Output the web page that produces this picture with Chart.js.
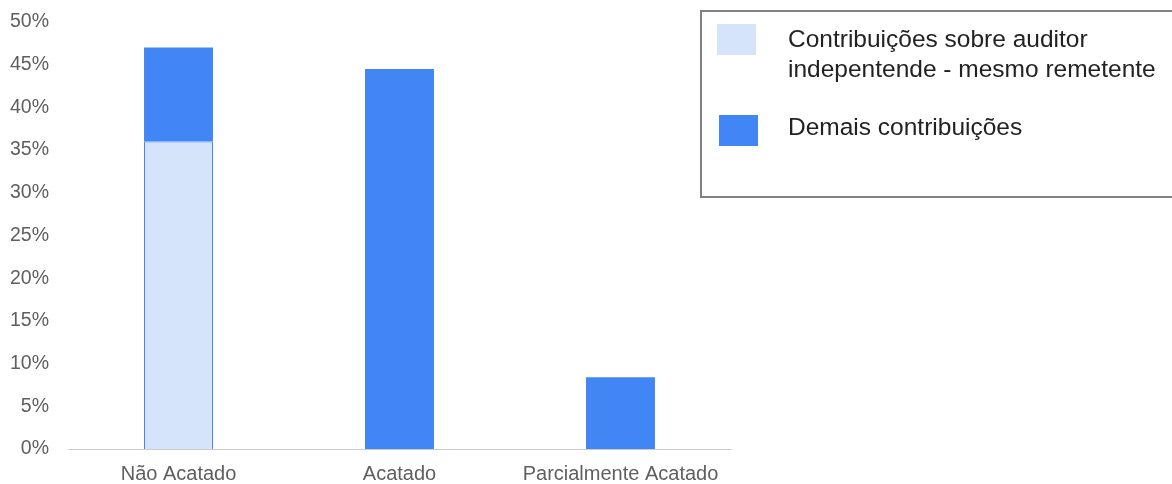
<!DOCTYPE html>
<html>
<head>
<meta charset="utf-8">
<script src="https://cdn.jsdelivr.net/npm/chart.js@4"></script>
<style>
  body { margin: 0; background: #fff; font-family: "Liberation Sans", Arial, sans-serif; }
  #wrap { position: relative; width: 1172px; height: 484px; }
  #legend {
    position: absolute; left: 700px; top: 10px; width: 480px; height: 184px;
    border: 2px solid #808080; box-sizing: content-box;
  }
  .item { position: absolute; left: 86px; color: #222; font-size: 24.5px; line-height: 30px; }
  .sw { position: absolute; width: 39px; height: 31px; }
</style>
</head>
<body>
<div id="wrap">
  <canvas id="chart" width="1172" height="484"></canvas>
  <div id="legend"></div>
</div>
<script>
// values (percent)
const categories = ["Não Acatado", "Acatado", "Parcialmente Acatado"];
const mesmoRemetente = [36, 0, 0];
const demais = [11, 44.5, 8.4];
const yTicks = [0, 5, 10, 15, 20, 25, 30, 35, 40, 45, 50];

const seriesNames = ["Contribuições sobre auditor\nindepentende - mesmo remetente", "Demais contribuições"];
const colors = ["#d6e4fb", "#4285f4"];

const ctx = document.getElementById("chart");
const chart = new Chart(ctx, {
  type: "bar",
  data: {
    labels: categories,
    datasets: [
      {
        label: seriesNames[0],
        data: mesmoRemetente,
        backgroundColor: colors[0],
        borderColor: colors[1],
        borderWidth: (c) => (c.raw ? 1 : 0),
        borderSkipped: "bottom",
      },
      {
        label: seriesNames[1],
        data: demais,
        backgroundColor: colors[1],
        borderWidth: 0,
      },
    ],
  },
  options: {
    responsive: false,
    animation: false,
    layout: { padding: { top: 22, right: 441, left: 0, bottom: 0 } },
    plugins: { legend: { display: false }, tooltip: { enabled: false } },
    datasets: { bar: { categoryPercentage: 1, barPercentage: 0.312 } },
    scales: {
      x: {
        stacked: true,
        grid: { display: false, drawTicks: false },
        border: { color: "#cccccc", width: 1 },
        ticks: { color: "#5f5f5f", font: { family: "Liberation Sans", size: 20 }, padding: 13, maxRotation: 0 },
        afterFit: (s) => { s.height = 35; },
      },
      y: {
        stacked: true,
        min: 0,
        max: 50,
        grid: { display: false, drawTicks: false },
        border: { display: false },
        afterBuildTicks: (s) => { s.ticks = yTicks.map((v) => ({ value: v })); },
        afterFit: (s) => { s.width = 68; s.paddingTop = 0; s.paddingBottom = 0; },
        ticks: {
          color: "#5f5f5f",
          font: { family: "Liberation Sans", size: 19.5 },
          padding: 19,
          callback: (v) => v + "%",
        },
      },
    },
  },
});

// legend box built from the datasets
const legend = document.getElementById("legend");
const tops = [12, 100];
const swTops = [12, 103];
const swLefts = [15, 17];
chart.data.datasets.forEach((ds, i) => {
  const sw = document.createElement("div");
  sw.className = "sw";
  sw.style.background = ds.backgroundColor;
  sw.style.top = swTops[i] + "px";
  sw.style.left = swLefts[i] + "px";
  legend.appendChild(sw);
  const t = document.createElement("div");
  t.className = "item";
  t.style.top = tops[i] + "px";
  t.innerHTML = ds.label.split("\n").join("<br>");
  legend.appendChild(t);
});
</script>
</body>
</html>
